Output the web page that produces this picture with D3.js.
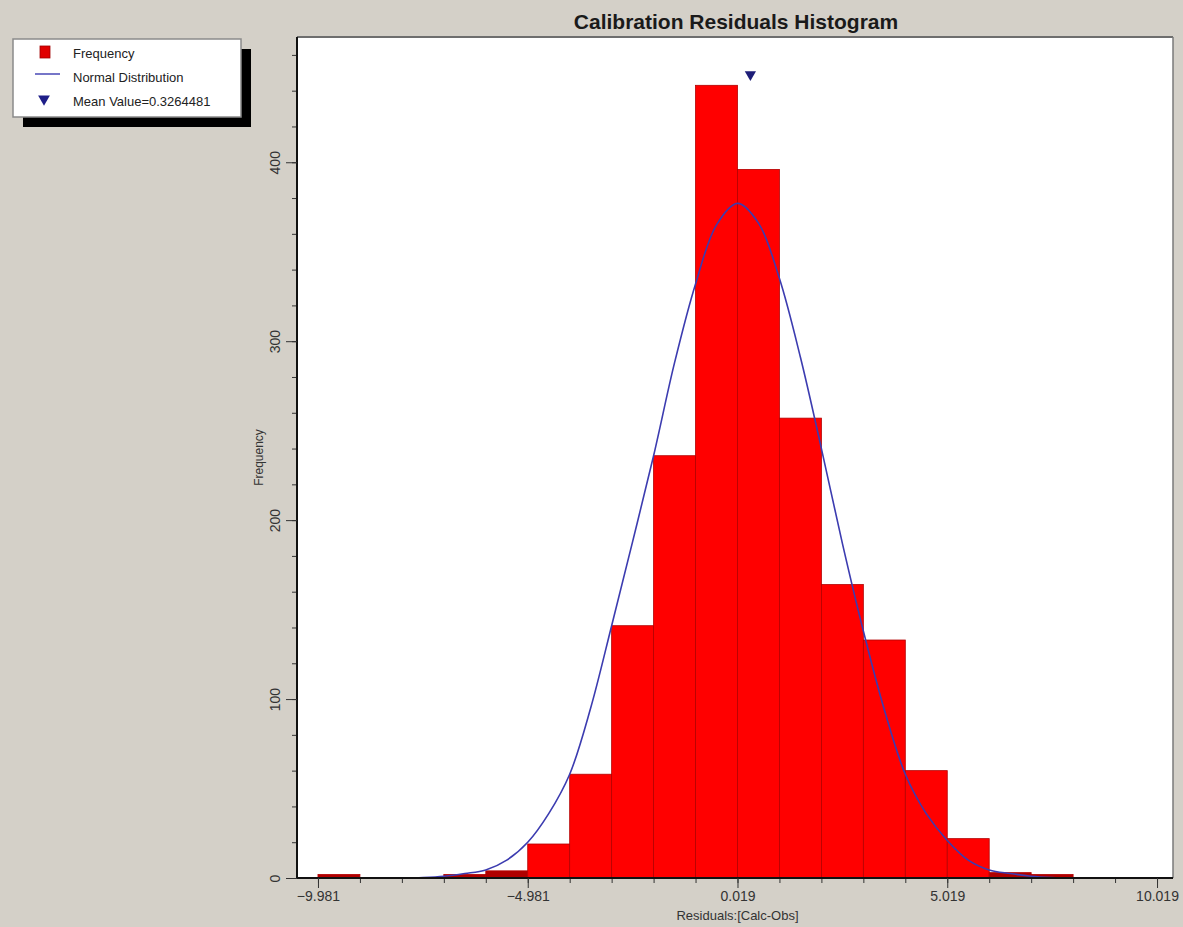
<!DOCTYPE html>
<html>
<head>
<meta charset="utf-8">
<script src="https://cdn.jsdelivr.net/npm/d3@7"></script>
<style>
  body { margin: 0; background: #d4d0c8; }
  svg { display: block; font-family: Arial, "Liberation Sans", sans-serif; }
</style>
</head>
<body>
<div id="chart"></div>
<script>
// histogram bins (lower edge) and counts
var binStart = [-9.981, -8.981, -7.981, -6.981, -5.981, -4.981, -3.981, -2.981, -1.981, -0.981,
                0.019, 1.019, 2.019, 3.019, 4.019, 5.019, 6.019, 7.019, 8.019, 9.019];
var binCount = [2, 0, 0, 2, 4, 19, 58, 141, 236, 443,
                396, 257, 164, 133, 60, 22, 3, 2, 0, 0];
var binWidth = 1;

// normal distribution curve
var curveX = [-7.981, -7.481, -6.981, -6.481, -5.981, -5.481, -4.981, -4.481, -3.981, -3.481,
              -2.981, -2.481, -1.981, -1.481, -0.981, -0.481, 0.019, 0.519, 1.019, 1.519,
              2.019, 2.519, 3.019, 3.519, 4.019, 4.519, 5.019, 5.519, 6.019, 6.519,
              7.019, 7.519, 8.019];
var curveY = [0, 0.3, 1, 2.5, 4.5, 10, 20, 36, 58, 95,
              141, 188, 236, 288, 332, 365, 377, 366, 335, 291,
              240, 187, 138, 94, 58, 36, 21, 10, 4.5, 2.5,
              1, 0.3, 0];

var meanValue = 0.3264481;
var xTickValues = [-9.981, -4.981, 0.019, 5.019, 10.019];
var yTickValues = [0, 100, 200, 300, 400];
var legendLabels = ["Frequency", "Normal Distribution", "Mean Value=0.3264481"];

var W = 1183, H = 927;
var margin = {top: 37, right: 10, bottom: 49, left: 297};
var width = W - margin.left - margin.right,
    height = H - margin.top - margin.bottom;

var svg = d3.select("#chart").append("svg")
    .attr("width", W)
    .attr("height", H);

svg.append("rect").attr("width", W).attr("height", H).attr("fill", "#d4d0c8");

// title
svg.append("text")
    .attr("x", 736)
    .attr("y", 29)
    .attr("text-anchor", "middle")
    .style("font-size", "21px")
    .style("font-weight", "bold")
    .attr("fill", "#1a1a1a")
    .text("Calibration Residuals Histogram");

var g = svg.append("g")
    .attr("transform", "translate(" + margin.left + "," + margin.top + ")");

var x = d3.scaleLinear().domain([-10.481, 10.4]).range([0, width]);
var y = d3.scaleLinear().domain([0, 470]).range([height, 0]);

// plot background + sunken border
g.append("rect")
    .attr("width", width)
    .attr("height", height)
    .attr("fill", "#ffffff");
g.append("line").attr("x1", 0).attr("x2", width).attr("y1", 0).attr("y2", 0)
    .attr("stroke", "#6e6e6e").attr("stroke-width", 2);
g.append("line").attr("x1", width).attr("x2", width).attr("y1", 0).attr("y2", height)
    .attr("stroke", "#7a7a7a").attr("stroke-width", 1.5);

// bars
g.selectAll("rect.bar")
    .data(binStart.map(function(d, i) { return {x0: d, x1: d + binWidth, n: binCount[i]}; }))
    .enter().append("rect")
    .attr("class", "bar")
    .attr("x", d => x(d.x0))
    .attr("y", d => y(d.n))
    .attr("width", d => x(d.x1) - x(d.x0))
    .attr("height", d => y(0) - y(d.n))
    .attr("fill", d => d.n < 6 ? "#b00000" : "#ff0000")
    .attr("stroke", "#b30000")
    .attr("stroke-width", 0.8);

// normal curve
var line = d3.line()
    .x(d => x(d[0]))
    .y(d => y(d[1]))
    .curve(d3.curveCatmullRom);
g.append("path")
    .datum(curveX.map((d, i) => [d, curveY[i]]))
    .attr("d", line)
    .attr("fill", "none")
    .attr("stroke", "#3c3cb0")
    .attr("stroke-width", 1.6);

// mean marker
g.append("path")
    .attr("d", d3.symbol().type(d3.symbolTriangle).size(55))
    .attr("transform", "translate(" + x(meanValue) + "," + y(449) + ") rotate(180)")
    .attr("fill", "#1e1e78");

// X axis
var xMinor = d3.range(0, 21).map(i => binStart[0] + i);
g.append("g")
    .attr("transform", "translate(0," + height + ")")
    .call(d3.axisBottom(x).tickValues(xMinor).tickSize(5).tickFormat(""))
    .call(a => a.select(".domain").remove())
    .selectAll("line").attr("stroke", "#333");
var xAxis = g.append("g")
    .attr("transform", "translate(0," + height + ")")
    .call(d3.axisBottom(x).tickValues(xTickValues).tickSize(10).tickSizeOuter(0)
        .tickFormat(d3.format(".3f")));
xAxis.select(".domain").attr("stroke", "#111").attr("stroke-width", 2)
    .attr("d", "M0,0H" + width);
xAxis.selectAll("line").attr("stroke", "#333");
xAxis.selectAll("text")
    .attr("y", 13)
    .style("font-size", "14px")
    .attr("fill", "#333");

g.append("text")
    .attr("x", x(0.019))
    .attr("y", height + 42)
    .attr("text-anchor", "middle")
    .style("font-size", "13px")
    .attr("fill", "#333")
    .text("Residuals:[Calc-Obs]");

// Y axis
g.append("g")
    .call(d3.axisLeft(y).tickValues(d3.range(0, 461, 20)).tickSize(5).tickFormat(""))
    .call(a => a.select(".domain").remove())
    .selectAll("line").attr("stroke", "#333");
var yAxis = g.append("g")
    .call(d3.axisLeft(y).tickValues(yTickValues).tickSize(11).tickSizeOuter(0));
yAxis.select(".domain").attr("stroke", "#111").attr("stroke-width", 2)
    .attr("d", "M0,0V" + height);
yAxis.selectAll("line").attr("stroke", "#333");
yAxis.selectAll("text")
    .attr("x", null).attr("dy", null)
    .attr("transform", "translate(-17,0) rotate(-90)")
    .attr("text-anchor", "middle")
    .style("font-size", "14px")
    .attr("fill", "#333");

g.append("text")
    .attr("transform", "translate(-34," + (height / 2) + ") rotate(-90)")
    .attr("text-anchor", "middle")
    .style("font-size", "12px")
    .attr("fill", "#333")
    .text("Frequency");

// legend
var lg = svg.append("g").attr("transform", "translate(13,39)");
lg.append("rect").attr("x", 10).attr("y", 10).attr("width", 228).attr("height", 78).attr("fill", "#000");
lg.append("rect").attr("width", 228).attr("height", 78)
    .attr("fill", "#fff").attr("stroke", "#8a8a8a").attr("stroke-width", 1.5);

var rowY = [14, 38, 62];
lg.append("rect").attr("x", 27).attr("y", rowY[0] - 7).attr("width", 10).attr("height", 12)
    .attr("fill", "#e00000").attr("stroke", "#a00000").attr("stroke-width", 0.8);
lg.append("line").attr("x1", 22).attr("x2", 47).attr("y1", rowY[1] - 3).attr("y2", rowY[1] - 3)
    .attr("stroke", "#3c3cb0").attr("stroke-width", 1.4);
lg.append("path")
    .attr("d", d3.symbol().type(d3.symbolTriangle).size(60))
    .attr("transform", "translate(31," + (rowY[2] - 2) + ") rotate(180)")
    .attr("fill", "#1e1e88");

lg.selectAll("text.leg")
    .data(legendLabels)
    .enter().append("text")
    .attr("class", "leg")
    .attr("x", 60)
    .attr("y", (d, i) => rowY[i])
    .attr("dy", "0.35em")
    .style("font-size", "13px")
    .attr("fill", "#222")
    .text(d => d);
</script>
</body>
</html>
